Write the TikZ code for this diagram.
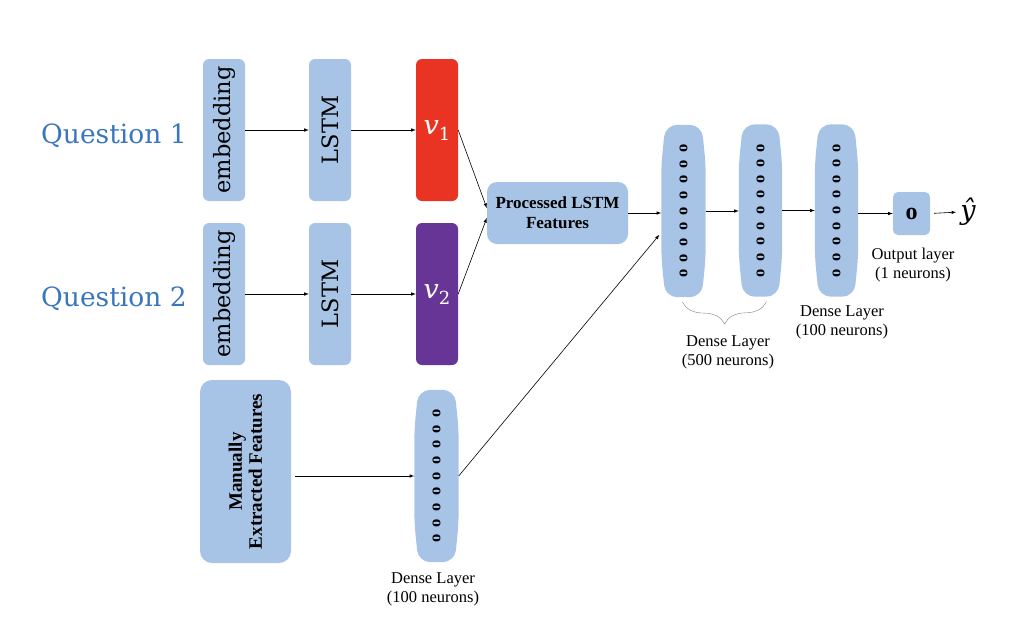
\documentclass[tikz,border=0pt]{standalone}
\usepackage{fontspec}
\newfontfamily\timesfont{Liberation Serif}
\newfontfamily\schfont{DejaVu Serif}
\usetikzlibrary{calc,backgrounds,decorations.pathreplacing}
\definecolor{boxblue}{RGB}{167,196,230}
\definecolor{qblue}{RGB}{58,118,188}
\definecolor{vred}{RGB}{233,51,35}
\definecolor{vpurple}{RGB}{103,53,149}
\newcommand{\neuroncol}{\rotatebox{90}{o\foreach \i in {1,...,8}{\hskip7.4pt o}}}
\newcommand{\vecname}[1]{\raisebox{-4pt}{\itshape v\upshape\raisebox{-6pt}{\fontsize{18}{18}\selectfont #1}}}

\tikzset{
  question/.style={text=qblue, anchor=base, font=\schfont\fontsize{26.5}{28}\selectfont},
  block/.style={fill=boxblue, rounded corners=6pt, inner sep=0pt, rotate=90,
    minimum width=142pt, minimum height=42pt, font=\schfont\fontsize{22.5}{24}\selectfont},
  vecbox/.style={rounded corners=6pt, inner sep=0pt, text=white,
    minimum width=42pt, minimum height=142pt, font=\schfont\fontsize{27}{30}\selectfont},
  layer/.style={inner sep=0pt, minimum width=44pt, minimum height=172pt,
    font=\timesfont\bfseries\fontsize{16.5}{16}\selectfont},
  lbl/.style={align=center, font=\timesfont\fontsize{16.5}{19}\selectfont},
  conn/.style={->, >=latex, line width=0.6pt},
}

\begin{document}
\begin{tikzpicture}[x=1pt, y=-1pt]
  \useasboundingbox (0,0) rectangle (1012,638);
  %inputs
  \node[question] (q1) at (114,143) {Question 1};
  \node[question] (q2) at (114,306) {Question 2};
  \node[block] (emb1) at (224,130) {embedding};
  \node[block] (emb2) at (224,294) {embedding};
  \node[block] (lstm1) at (330,130) {LSTM};
  \node[block] (lstm2) at (330,294) {LSTM};
  \node[vecbox, fill=vred] (v1) at (437,130) {\vecname{1}};
  \node[vecbox, fill=vpurple] (v2) at (437,294) {\vecname{2}};
  \node[fill=boxblue, rounded corners=10pt, inner sep=0pt, minimum width=141pt,
    minimum height=62pt, align=center, font=\timesfont\bfseries\fontsize{17}{20}\selectfont]
    (proc) at (557.5,213) {Processed LSTM\\Features};
  \node[block, rounded corners=12pt, minimum width=183pt, minimum height=91pt, align=center,
    font=\timesfont\bfseries\fontsize{19}{20}\selectfont]
    (man) at (245.5,471.5) {Manually\\Extracted Features};
  %layers
  \node[layer] (A) at (683.5,211) {\neuroncol};
  \node[layer, minimum width=43pt] (B) at (760.5,210.5) {\neuroncol};
  \node[layer, minimum width=43pt] (C) at (836.5,210.5) {\neuroncol};
  \node[layer] (D) at (436.5,476) {\neuroncol};
  \node[fill=boxblue, rounded corners=5pt, inner sep=0pt, minimum width=37pt, minimum height=43pt,
    font=\timesfont\bfseries\fontsize{24}{24}\selectfont] (out) at (911.5,213.5) {o};
  \node[inner sep=1pt, font=\schfont\itshape\fontsize{27}{30}\selectfont] (yhat) at (968,212) {ŷ};
  \begin{scope}[on background layer]
    \foreach \n in {A,B,C,D}
    \fill[boxblue, rounded corners=12pt] ($(\n.north west)+(4,0)$) -- ($(\n.north east)+(-4,0)$)
      -- ($(\n.north east)+(0,40)$) -- ($(\n.south east)+(0,-40)$)
      -- ($(\n.south east)+(-4,0)$) -- ($(\n.south west)+(4,0)$)
      -- ($(\n.south west)+(0,-40)$) -- ($(\n.north west)+(0,40)$) -- cycle;
  \end{scope}
  %labels
  \draw[gray, decorate, decoration={brace, amplitude=22pt}]
    ($(B.south)+(6,5)$) coordinate (brB) -- ($(A.south)+(-1,5)$) coordinate (brA);
  \node[lbl] (lbl500) at (728,352) {Dense Layer\\(500 neurons)};
  \node[lbl] (lbl100) at (842,322) {Dense Layer\\(100 neurons)};
  \node[lbl] (lblout) at (913,265) {Output layer\\(1 neurons)};
  \node[lbl] (lblD) at (433,589) {Dense Layer\\(100 neurons)};
  %connections
  \draw[conn] (emb1) -- (lstm1);
  \draw[conn] (lstm1) -- (v1);
  \draw[conn] (emb2) -- (lstm2);
  \draw[conn] (lstm2) -- (v2);
  \draw[conn] (v1.east) -- (proc.176);
  \draw[conn] (v2.east) -- (proc.184);
  \draw[conn] (proc.east) -- (proc.east -| A.west);
  \draw[conn] (A.east) -- (A.east -| B.west);
  \draw[conn] (B.east) -- (B.east -| C.west);
  \draw[conn] (C.east |- out.west) -- (out.west);
  \draw[conn, shorten <=4pt, shorten >=3pt] (out.east) -- (yhat.west);
  \draw[conn, shorten <=4pt] (man.south |- D.west) -- (D.west);
  \draw[conn, shorten >=3pt] (D.east) -- (A.224);
\end{tikzpicture}
\end{document}
